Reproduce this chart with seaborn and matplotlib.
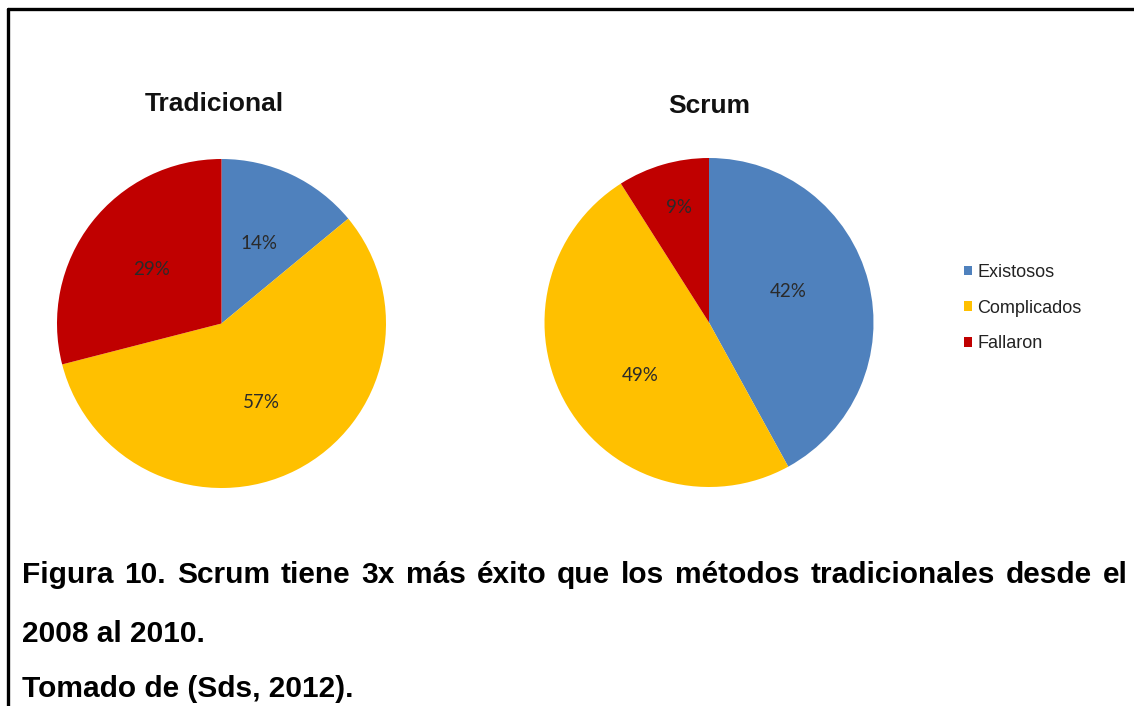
import matplotlib
matplotlib.use("Agg")
import matplotlib.pyplot as plt
from matplotlib.lines import Line2D
from matplotlib.patches import Patch
import seaborn as sns

# Project outcome shares (%) by methodology
categories = ["Existosos", "Complicados", "Fallaron"]
tradicional = [14, 57, 29]
scrum = [42, 49, 9]
chart_titles = ["Tradicional", "Scrum"]
caption_lines = [
    "Figura 10. Scrum tiene 3x más éxito que los métodos tradicionales desde el",
    "2008 al 2010.",
    "Tomado de (Sds, 2012).",
]

sns.set_theme(style="white")
plt.rcParams["font.family"] = ["Liberation Sans", "DejaVu Sans"]
colors = sns.color_palette(["#4F81BD", "#FFC000", "#C00000"])

W, H = 1134, 706
fig = plt.figure(figsize=(W / 100, H / 100), dpi=100)
fig.patch.set_facecolor("white")


def px_axes(cx, cy, r):
    return fig.add_axes([(cx - r) / W, (H - cy - r) / H, 2 * r / W, 2 * r / H])


def draw_pie(ax, values, title, tx, ty, label_pos=None):
    _, _, autotexts = ax.pie(
        values, colors=colors, startangle=90, counterclock=False,
        radius=1.0, autopct="%1.0f%%", pctdistance=0.54,
        textprops=dict(family="Lato", fontsize=13.5, color="#2a2a2a"),
        wedgeprops=dict(linewidth=0))
    if label_pos is not None:
        for t, p in zip(autotexts, label_pos):
            t.set_position(p)
    ax.set_xlim(-1, 1)
    ax.set_ylim(-1, 1)
    ax.set_aspect("equal")
    ax.axis("off")
    fig.text(tx / W, 1 - ty / H, title, ha="center", va="center",
             fontsize=19, fontweight="bold", color="#111111")


ax1 = px_axes(221.5, 323.5, 164.5)
draw_pie(ax1, tradicional, chart_titles[0], 214, 104)
ax2 = px_axes(709, 322.5, 164.5)
draw_pie(ax2, scrum, chart_titles[1], 709, 106,
         label_pos=[(0.48, 0.19), (-0.42, -0.32), (-0.18, 0.70)])

# Legend
handles = [Patch(facecolor=c, edgecolor="none") for c in colors]
fig.legend(handles, categories, loc="upper left",
           bbox_to_anchor=(955 / W, 1 - 255 / H), frameon=False,
           fontsize=13, handlelength=0.45, handleheight=0.45,
           handletextpad=0.3, labelspacing=1.03, borderpad=0,
           labelcolor="#222222")

# Frame lines (top and left)
fig.add_artist(Line2D([8 / W, 1.0], [1 - 9 / H, 1 - 9 / H],
                      transform=fig.transFigure, color="black", lw=2.4))
fig.add_artist(Line2D([8 / W, 8 / W], [0, 1 - 9 / H],
                      transform=fig.transFigure, color="black", lw=2.4))

# Caption: first line justified between the margins, the rest left-aligned
cap_style = dict(ha="left", va="baseline", fontsize=21.5,
                 fontweight="bold", color="black")
left_px, right_px = 22, 1128
baselines = [583, 642, 697]

renderer = fig.canvas.get_renderer()
words = caption_lines[0].split(" ")
word_texts = [fig.text(0, 1 - baselines[0] / H, w, **cap_style) for w in words]
widths = [t.get_window_extent(renderer).width for t in word_texts]
gap = (right_px - left_px - sum(widths)) / (len(words) - 1)
x = left_px
for t, w in zip(word_texts, widths):
    t.set_x(x / W)
    x += w + gap

for line, yb in zip(caption_lines[1:], baselines[1:]):
    fig.text(left_px / W, 1 - yb / H, line, **cap_style)

fig.savefig("out.png", dpi=100, facecolor="white")
